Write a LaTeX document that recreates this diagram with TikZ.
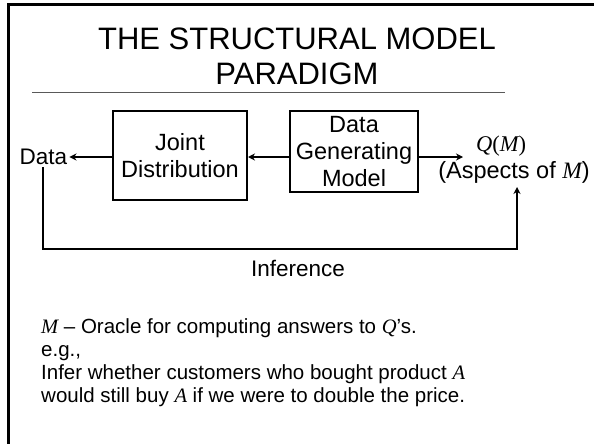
\documentclass[tikz,border=0pt]{standalone}
\usepackage{fontspec}
\setmainfont{Liberation Sans}
\newfontfamily\tms{Liberation Serif}
\usetikzlibrary{arrows.meta}
\begin{document}
\begin{tikzpicture}[x=1pt,y=-1pt,
  box/.style={draw, line width=2pt, align=center, inner sep=0pt,
    font=\fontsize{23.5}{27}\selectfont},
  lbl/.style={font=\fontsize{22.5}{26}\selectfont, inner sep=2pt},
  arr/.style={line width=2pt, -{Stealth[length=7pt,width=7pt]}},
  body/.style={font=\fontsize{20.5}{23}\selectfont, anchor=base west, inner sep=0pt}]
\useasboundingbox (0,0) rectangle (594,444);
% frame
\draw[line width=3pt] (8,444) -- (8,5) -- (594,5);
% title
\node[font=\fontsize{31}{35}\selectfont, align=center] (title) at (297,56)
  {THE STRUCTURAL MODEL\\PARADIGM};
\coordinate (r1) at (32,92);
\coordinate (r2) at (505,92);
\draw[line width=1pt, black!65] (r1) -- (r2);
% boxes
\node[box, minimum width=134, minimum height=89] (jd) at (180,155.5)
  {Joint\\Distribution};
\node[box, minimum width=128, minimum height=81] (dgm) at (354,151.5)
  {Data\\Generating\\Model};
\node[lbl] (data) at (43.5,157) {Data};
\node[lbl, inner sep=0pt] (qm) at (501,146)
  {{\tms\itshape Q}{\tms(}{\tms\itshape M}{\tms)}};
\node[lbl, inner sep=0pt, font=\fontsize{23.5}{26}\selectfont] (asp) at (514,172)
  {(Aspects of {\tms\itshape M})};
\coordinate (tip) at (463,157);
\coordinate (c1) at (43,249);
\coordinate (c2) at (517,249);
\coordinate (tip2) at (517,187);
\draw[arr] (jd.west |- data) -- (data.east);
\draw[arr] (dgm.west |- data) -- (jd.east |- data);
\draw[arr] (dgm.east |- data) -- (tip);
\draw[arr] (c1 |- data.south) -- (c1) -- (c2) -- (tip2);
\node[lbl] (inf) at (298,268) {Inference};
% body text
\node[body] (l1) at (41,333) {{\tms\itshape M} -- Oracle for computing answers to {\tms\itshape Q}’s.};
\node[body] (l2) at (41,356) {e.g.,};
\node[body] (l3) at (41,379) {Infer whether customers who bought product {\tms\itshape A}};
\node[body] (l4) at (41,402) {would still buy {\tms\itshape A} if we were to double the price.};
\end{tikzpicture}
\end{document}
